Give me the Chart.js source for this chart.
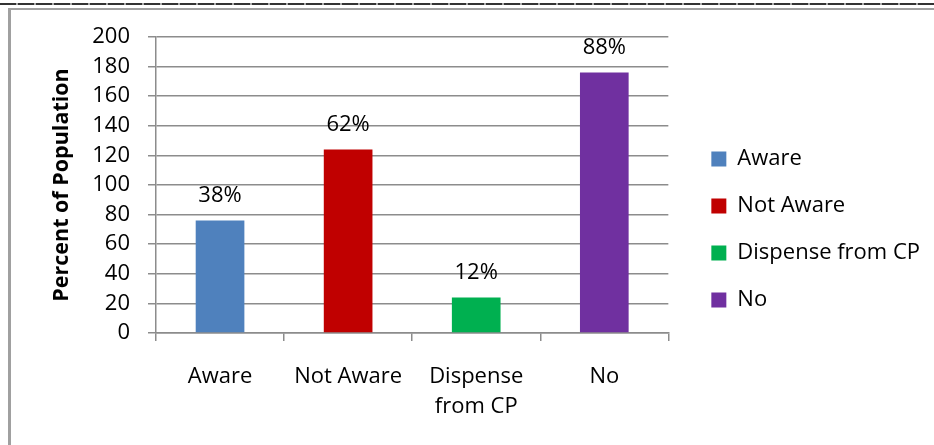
<!DOCTYPE html>
<html>
<head>
<meta charset="utf-8">
<script src="https://cdn.jsdelivr.net/npm/chart.js@4.4.1/dist/chart.umd.min.js"></script>
<style>
  html, body { margin: 0; padding: 0; background: #fff; }
  #wrap { position: relative; width: 934px; height: 445px; overflow: hidden; }
  #rule { position: absolute; left: 0; top: 3px; width: 934px; height: 2px;
          background: repeating-linear-gradient(90deg, #333 0 16px, #aaa 16px 18px); }
  #frame { position: absolute; left: 8px; top: 8px; width: 940px; height: 450px;
           border-left: 3px solid #a0a0a0; border-top: 2px solid #a0a0a0; }
  #awareChart { position: absolute; left: 0; top: 0; }
</style>
</head>
<body>
<div id="wrap">
  <div id="rule"></div>
  <div id="frame"></div>
  <canvas id="awareChart" width="934" height="445"></canvas>
</div>
<script>
var categories = ['Aware', 'Not Aware', ['Dispense', 'from CP'], 'No'];
var legendNames = ['Aware', 'Not Aware', 'Dispense from CP', 'No'];
var values = [76, 124, 24, 176];
var barColors = ['#4F81BD', '#C00000', '#00B050', '#7030A0'];

var baseFont = { family: '"Open Sans", sans-serif', size: 22 };
var gridColor = '#8c8c8c';

// percent label sits above each bar (axis runs to 200, so value / 2)
var barLabels = {
    id: 'barLabels',
    afterDatasetsDraw: function (chart) {
        var ctx = chart.ctx;
        var meta = chart.getDatasetMeta(0);
        ctx.save();
        ctx.font = '22px "Open Sans", sans-serif';
        ctx.fillStyle = '#000';
        ctx.textAlign = 'center';
        ctx.textBaseline = 'middle';
        meta.data.forEach(function (bar, i) {
            ctx.fillText(Math.round(values[i] / 2) + '%', bar.x, bar.y - 25);
        });
        ctx.restore();
    }
};

function buildAwareChart() {
    var ctx = document.getElementById('awareChart').getContext('2d');
    var chart = new Chart(ctx, {
        type: 'bar',
        data: {
            labels: categories,
            datasets: [{
                data: values,
                backgroundColor: barColors,
                barPercentage: 0.38,
                categoryPercentage: 1
            }]
        },
        options: {
            responsive: false,
            animation: false,
            layout: { padding: { left: 10, top: 37, bottom: 23, right: 4 } },
            plugins: {
                tooltip: { enabled: false },
                legend: {
                    position: 'right',
                    maxWidth: 400,
                    labels: {
                        font: baseFont,
                        color: '#000',
                        boxWidth: 15,
                        boxHeight: 15,
                        padding: 25,
                        generateLabels: function () {
                            return legendNames.map(function (name, i) {
                                return {
                                    text: name,
                                    fillStyle: barColors[i],
                                    strokeStyle: barColors[i],
                                    lineWidth: 0,
                                    fontColor: '#000',
                                    index: i
                                };
                            });
                        }
                    }
                }
            },
            scales: {
                x: {
                    offset: true,
                    afterFit: function (scale) { scale.height = 89; },
                    grid: {
                        offset: true,
                        drawOnChartArea: false,
                        color: gridColor,
                        lineWidth: 1.5,
                        tickLength: 8
                    },
                    border: { color: gridColor, width: 1.5 },
                    ticks: { font: Object.assign({ lineHeight: 1.36 }, baseFont), color: '#000', padding: 21, maxRotation: 0 }
                },
                y: {
                    min: 0,
                    max: 200,
                    afterFit: function (scale) { scale.width = 146; },
                    grid: { color: gridColor, lineWidth: 1.5, tickLength: 8 },
                    border: { color: gridColor, width: 1.5 },
                    ticks: { font: baseFont, color: '#000', padding: 18, stepSize: 20, autoSkip: false },
                    title: {
                        display: true,
                        text: 'Percent of Population',
                        color: '#000',
                        font: { family: '"Open Sans", sans-serif', size: 21.5, weight: 'bold' },
                        padding: { top: 39, bottom: 0 }
                    }
                },
                gap: {
                    position: 'right',
                    display: true,
                    grid: { display: false },
                    ticks: { display: false },
                    border: { display: false },
                    afterFit: function (scale) { scale.width = 18; }
                }
            }
        },
        plugins: [barLabels]
    });
}

buildAwareChart();
</script>
</body>
</html>
